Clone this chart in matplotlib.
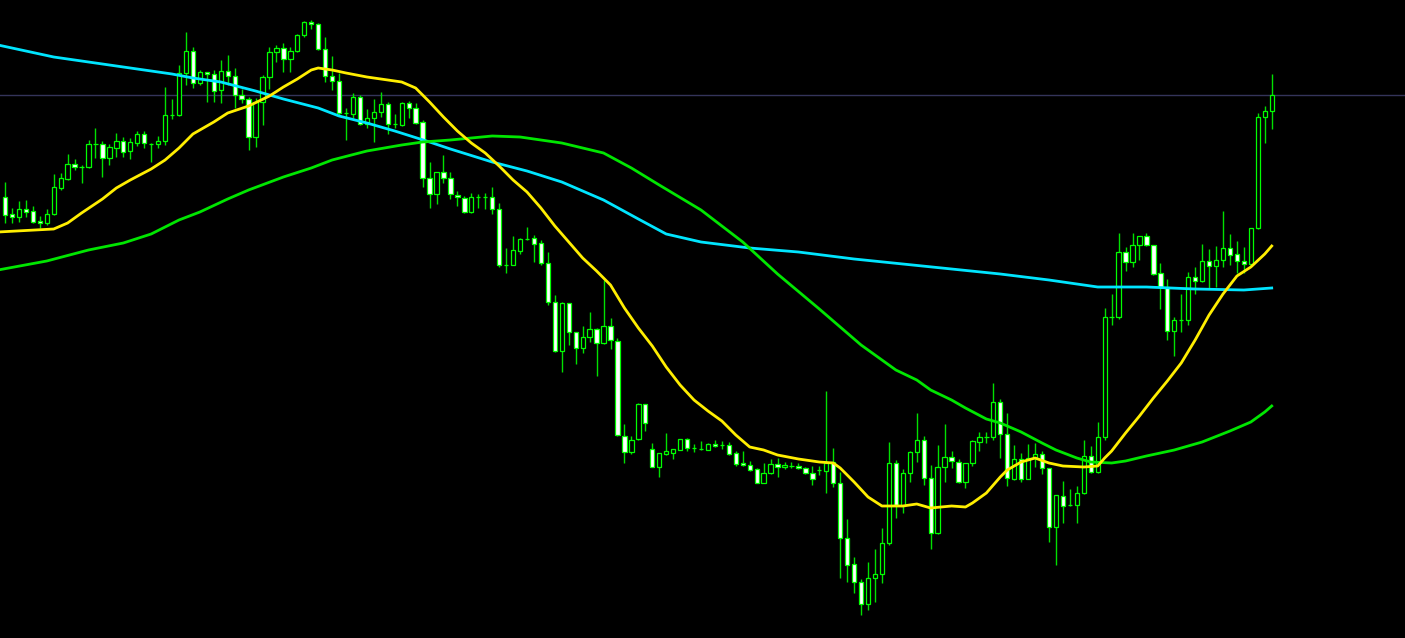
import matplotlib
matplotlib.use("Agg")
import matplotlib.pyplot as plt
import numpy as np

# OHLC candles (price units), oldest first
opens = [803, 786, 783, 791, 789, 779, 777, 786, 812, 821,
         836, 833, 833, 856, 856, 842, 852, 859, 849, 857,
         866, 856, 856, 859, 885, 885, 927, 949, 917, 928,
         926, 910, 929, 924, 905, 901, 863, 898, 923, 948,
         952, 941, 949, 965, 978, 976, 951, 924, 919, 887,
         886, 903, 876, 882, 888, 896, 876, 875, 897, 892,
         878, 822, 806, 828, 822, 805, 802, 788, 803, 803,
         803, 791, 735, 735, 749, 761, 762, 757, 737, 698,
         649, 697, 668, 652, 663, 671, 657, 674, 659, 564,
         548, 561, 596, 551, 533, 546, 547, 550, 561, 552,
         551, 550, 556, 555, 555, 547, 537, 535, 531, 517,
         527, 536, 533, 534, 534, 532, 527, 530, 529, 538,
         517, 462, 436, 418, 396, 422, 426, 457, 537, 494,
         527, 548, 560, 522, 467, 533, 543, 538, 518, 537,
         558, 563, 563, 598, 566, 521, 541, 521, 542, 546,
         532, 473, 504, 495, 495, 507, 544, 528, 563, 683,
         683, 748, 738, 755, 764, 755, 727, 713, 669, 680,
         680, 723, 719, 739, 734, 740, 752, 746, 739, 736,
         772, 883, 889]
highs = [818, 792, 799, 800, 794, 784, 791, 826, 827, 846,
         841, 835, 860, 872, 859, 856, 867, 863, 862, 869,
         869, 857, 864, 913, 901, 935, 968, 953, 930, 928,
         930, 940, 945, 932, 911, 903, 902, 925, 953, 955,
         957, 953, 966, 979, 980, 977, 963, 944, 927, 892,
         907, 905, 891, 901, 908, 898, 886, 898, 899, 897,
         880, 838, 828, 845, 828, 809, 804, 807, 806, 807,
         813, 797, 752, 764, 762, 773, 765, 760, 748, 705,
         698, 697, 668, 674, 688, 672, 720, 682, 662, 576,
         564, 597, 596, 557, 547, 567, 551, 561, 562, 556,
         559, 557, 560, 559, 558, 549, 549, 539, 532, 537,
         541, 542, 538, 538, 537, 533, 534, 534, 609, 552,
         528, 481, 443, 421, 438, 451, 472, 558, 540, 531,
         549, 587, 564, 535, 555, 576, 549, 541, 537, 560,
         568, 568, 617, 601, 587, 555, 547, 556, 557, 549,
         532, 505, 519, 511, 514, 560, 554, 578, 692, 706,
         767, 753, 767, 764, 767, 755, 737, 721, 683, 706,
         728, 733, 756, 751, 754, 789, 766, 759, 753, 772,
         887, 894, 926]
lows = [777, 777, 778, 783, 777, 772, 775, 785, 810, 820,
        830, 817, 832, 842, 823, 835, 843, 843, 841, 854,
        852, 838, 852, 855, 881, 884, 915, 912, 915, 898,
        898, 897, 915, 892, 897, 850, 853, 875, 911, 938,
        928, 928, 948, 963, 971, 950, 918, 910, 885, 860,
        882, 875, 872, 858, 883, 866, 872, 874, 882, 876,
        813, 792, 796, 817, 801, 794, 787, 787, 792, 791,
        786, 733, 727, 735, 746, 760, 738, 735, 695, 648,
        628, 655, 636, 647, 658, 624, 656, 651, 564, 537,
        546, 560, 569, 533, 523, 545, 541, 550, 549, 548,
        550, 550, 553, 551, 545, 534, 534, 529, 517, 517,
        526, 523, 531, 532, 531, 526, 515, 525, 507, 513,
        422, 418, 407, 385, 390, 398, 417, 455, 482, 487,
        518, 538, 515, 451, 466, 518, 532, 517, 512, 534,
        549, 557, 560, 542, 514, 520, 518, 521, 533, 526,
        458, 435, 477, 494, 477, 506, 527, 527, 560, 675,
        681, 729, 733, 740, 754, 725, 691, 660, 644, 668,
        675, 706, 718, 712, 713, 733, 735, 727, 727, 735,
        771, 857, 871]
closes = [785, 783, 791, 788, 778, 777, 786, 813, 822, 836,
          833, 833, 856, 856, 842, 853, 859, 848, 858, 866,
          857, 856, 859, 885, 885, 927, 949, 917, 928, 926,
          909, 929, 924, 905, 901, 863, 898, 923, 948, 952,
          941, 949, 965, 978, 976, 951, 924, 919, 887, 887,
          903, 876, 882, 888, 896, 876, 876, 897, 892, 877,
          822, 806, 828, 822, 806, 803, 788, 803, 803, 803,
          791, 735, 735, 750, 761, 761, 756, 737, 698, 649,
          697, 668, 652, 663, 671, 657, 674, 660, 565, 548,
          560, 596, 577, 533, 547, 549, 551, 561, 552, 552,
          551, 556, 554, 555, 546, 536, 535, 530, 517, 527,
          536, 533, 535, 534, 532, 527, 521, 530, 537, 517,
          462, 435, 418, 396, 422, 426, 457, 537, 495, 527,
          548, 560, 522, 467, 533, 543, 539, 518, 537, 559,
          563, 563, 598, 566, 522, 541, 521, 542, 546, 532,
          473, 505, 494, 495, 507, 544, 528, 563, 683, 683,
          748, 738, 755, 764, 755, 726, 713, 669, 680, 680,
          723, 719, 739, 734, 740, 752, 745, 739, 736, 772,
          883, 889, 905]

# moving averages (bar index -> value)
fast_ma_bars = [-1, 7, 9, 11, 14, 16, 18, 21, 23, 25, 27, 30, 32, 35, 38, 40, 42, 44, 45,
                47, 49, 52, 55, 57, 59, 61, 63, 65, 67, 69, 71, 73, 75, 77, 79, 81, 83,
                85, 87, 89, 91, 93, 95, 97, 99, 101, 103, 105, 107, 109, 111, 114, 117,
                119, 120, 122, 124, 126, 129, 131, 133, 136, 138, 139, 141, 143, 144,
                146, 148, 150, 152, 155, 157, 158, 159, 161, 163, 165, 167, 169, 171,
                173, 175, 177, 179, 181, 182]
fast_ma = [768, 771, 777, 787, 801, 812, 820, 831, 840, 852, 866, 878, 887, 894, 904, 913,
           921, 930, 932, 930, 927, 923, 920, 918, 912, 898, 883, 869, 857, 847, 834, 820,
           808, 792, 774, 758, 742, 729, 715, 692, 672, 654, 633, 615, 600, 589, 579, 565,
           553, 550, 545, 541, 538, 537, 532, 518, 503, 494, 494, 496, 492, 494, 493, 497,
           507, 523, 530, 538, 542, 537, 534, 533, 534, 542, 549, 567, 584, 602, 619, 637,
           660, 685, 706, 724, 733, 746, 754]

mid_ma_bars = [-1, 6, 12, 17, 21, 25, 28, 32, 35, 40, 44, 47, 52, 57, 60, 64, 70, 74, 80,
               86, 90, 94, 100, 106, 111, 117, 123, 128, 131, 133, 136, 138, 141, 143, 146,
               149, 151, 154, 156, 159, 161, 164, 168, 172, 176, 179, 181, 182]
mid_ma = [730, 739, 750, 757, 766, 780, 788, 801, 810, 823, 832, 840, 849, 855, 858, 860,
          864, 863, 857, 847, 832, 815, 790, 758, 726, 691, 655, 630, 620, 610, 600, 592,
          581, 577, 568, 557, 550, 542, 538, 537, 539, 544, 550, 558, 569, 578, 588, 594]

slow_ma_bars = [-1, 7, 15, 20, 24, 27, 31, 36, 40, 45, 48, 52, 56, 61, 64, 70, 75, 80, 86,
                91, 95, 100, 107, 114, 122, 129, 136, 143, 150, 157, 164, 171, 178, 182]
slow_ma = [955, 943, 935, 930, 926, 922, 918, 909, 901, 892, 884, 877, 869, 858, 851, 838,
           829, 818, 800, 781, 766, 758, 752, 748, 741, 736, 731, 726, 720, 713, 713, 711,
           710, 712]

price_line = 905

fig = plt.figure(figsize=(14.05, 6.38), dpi=100, facecolor="black")
ax = fig.add_axes([0, 0, 1, 1])
ax.set_facecolor("black")

idx = np.arange(len(opens))
o = np.array(opens, dtype=float)
c = np.array(closes, dtype=float)
bull = c >= o

ax.axhline(price_line, color="#34345a", lw=1, zorder=1)

ax.vlines(idx, lows, highs, color="#00e000", lw=1, zorder=2)
body_lo = np.minimum(o, c)
body_h = np.maximum(np.abs(c - o), 0.4)
fills = np.where(bull, "black", "white")
ax.bar(idx, body_h, bottom=body_lo, width=0.62, color=fills,
       edgecolor="#00ff00", linewidth=0.9, zorder=3)

ax.plot(slow_ma_bars, slow_ma, color="#00e5ff", lw=2, zorder=4)
ax.plot(mid_ma_bars, mid_ma, color="#00e600", lw=2, zorder=4)
ax.plot(fast_ma_bars, fast_ma, color="#ffee00", lw=2, zorder=4)

ax.set_xlim(-5 / 6.96, 1400 / 6.96)
ax.set_ylim(362, 1000)
ax.axis("off")

fig.savefig("out.png", dpi=100, facecolor="black")
